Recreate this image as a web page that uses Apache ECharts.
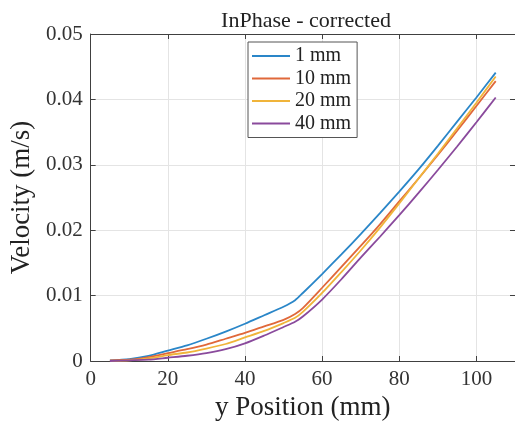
<!DOCTYPE html>
<html>
<head>
<meta charset="utf-8">
<script src="https://cdn.jsdelivr.net/npm/echarts@6/dist/echarts.min.js"></script>
<style>
html,body{margin:0;padding:0;background:#fff;}
#c{width:515px;height:427px;}
</style>
</head>
<body>
<div id="c"></div>
<script>
const positions = [5, 10, 15, 20, 25, 30, 35, 40, 45, 50, 53, 55, 60, 65, 70, 75, 80, 85, 90, 95, 100, 105];
const v1mm  = [0.0001, 0.0003, 0.0008, 0.0016, 0.0024, 0.0034, 0.0045, 0.0057, 0.0070, 0.0083, 0.0093, 0.0104, 0.0133, 0.0163, 0.0194, 0.0226, 0.0259, 0.0293, 0.0329, 0.0366, 0.0403, 0.0441];
const v10mm = [0.0001, 0.0002, 0.0006, 0.0012, 0.0018, 0.0025, 0.0034, 0.0043, 0.0053, 0.0063, 0.0072, 0.0081, 0.0112, 0.0144, 0.0176, 0.0209, 0.0244, 0.0279, 0.0315, 0.0352, 0.0390, 0.0428];
const v20mm = [0.0000, 0.0001, 0.0004, 0.0009, 0.0013, 0.0019, 0.0026, 0.0036, 0.0046, 0.0058, 0.0066, 0.0075, 0.0104, 0.0136, 0.0169, 0.0204, 0.0241, 0.0279, 0.0317, 0.0356, 0.0395, 0.0435];
const v40mm = [0.0000, 0.0001, 0.0002, 0.0005, 0.0008, 0.0012, 0.0018, 0.0027, 0.0039, 0.0052, 0.0060, 0.0068, 0.0094, 0.0125, 0.0158, 0.0190, 0.0223, 0.0257, 0.0292, 0.0328, 0.0365, 0.0403];
const seriesNames = ['1 mm', '10 mm', '20 mm', '40 mm'];
const seriesColors = ['#2a86c8', '#e0683a', '#f0b43a', '#8a4a9c'];
const titleText = 'InPhase - corrected';
const xLabel = 'y Position (mm)';
const yLabel = 'Velocity (m/s)';

const FONT = '"Liberation Serif", "Times New Roman", serif';
const allVals = [v1mm, v10mm, v20mm, v40mm];

const chart = echarts.init(document.getElementById('c'), null, {renderer: 'canvas'});
const axisColor = '#404040';
const gridColor = '#e4e4e4';

chart.setOption({
  animation: false,
  backgroundColor: '#fff',
  title: {
    text: titleText, left: 301, top: 5, textAlign: 'center',
    textStyle: {fontFamily: FONT, fontWeight: 'normal', fontSize: 22, color: '#222'}
  },
  legend: {
    data: seriesNames.map(n => ({name: n, icon: 'rect'})),
    orient: 'vertical', left: 248, top: 42,
    backgroundColor: '#fff', borderColor: '#555', borderWidth: 1,
    padding: [4, 6, 4, 4],
    itemWidth: 38, itemHeight: 2, itemGap: 2.5,
    textStyle: {fontFamily: FONT, fontSize: 20, color: '#222', lineHeight: 20}
  },
  grid: {left: 87, top: 34, right: -1, bottom: 66, containLabel: false},
  xAxis: [{
    type: 'value', min: 0, max: 110, interval: 20,
    name: xLabel, nameLocation: 'middle', nameGap: 33,
    nameTextStyle: {fontFamily: FONT, fontSize: 27, color: '#222'},
    axisLine: {show: true, onZero: false, lineStyle: {color: axisColor, width: 1}},
    axisTick: {show: true, inside: true, length: 5, lineStyle: {color: axisColor}},
    axisLabel: {fontFamily: FONT, fontSize: 21, color: '#333', margin: 8, showMaxLabel: false},
    splitLine: {show: true, lineStyle: {color: gridColor, width: 1}}
  }, {
    type: 'value', min: 0, max: 110, interval: 20, position: 'top',
    axisLine: {show: true, onZero: false, lineStyle: {color: axisColor, width: 1}},
    axisTick: {show: true, inside: true, length: 5, lineStyle: {color: axisColor}},
    axisLabel: {show: false}, splitLine: {show: false}
  }],
  yAxis: [{
    type: 'value', min: 0, max: 0.05, interval: 0.01,
    name: yLabel, nameLocation: 'middle', nameGap: 50, nameRotate: 90,
    nameTextStyle: {fontFamily: FONT, fontSize: 27, color: '#222'},
    axisLine: {show: true, onZero: false, lineStyle: {color: axisColor, width: 1}},
    axisTick: {show: true, inside: true, length: 5, lineStyle: {color: axisColor}},
    axisLabel: {fontFamily: FONT, fontSize: 21, color: '#333', margin: 8,
      formatter: v => v === 0 ? '0' : v.toFixed(2)},
    splitLine: {show: true, lineStyle: {color: gridColor, width: 1}}
  }, {
    type: 'value', min: 0, max: 0.05, interval: 0.01, position: 'right',
    axisLine: {show: true, onZero: false, lineStyle: {color: axisColor, width: 1}},
    axisTick: {show: true, inside: true, length: 5, lineStyle: {color: axisColor}},
    axisLabel: {show: false}, splitLine: {show: false}
  }],
  series: seriesNames.map((n, i) => ({
    name: n, type: 'line', xAxisIndex: 0, yAxisIndex: 0,
    symbol: 'none', smooth: 0.25,
    lineStyle: {color: seriesColors[i], width: 1.8},
    itemStyle: {color: seriesColors[i]},
    data: positions.map((x, j) => [x, allVals[i][j]])
  }))
});
</script>
</body>
</html>
